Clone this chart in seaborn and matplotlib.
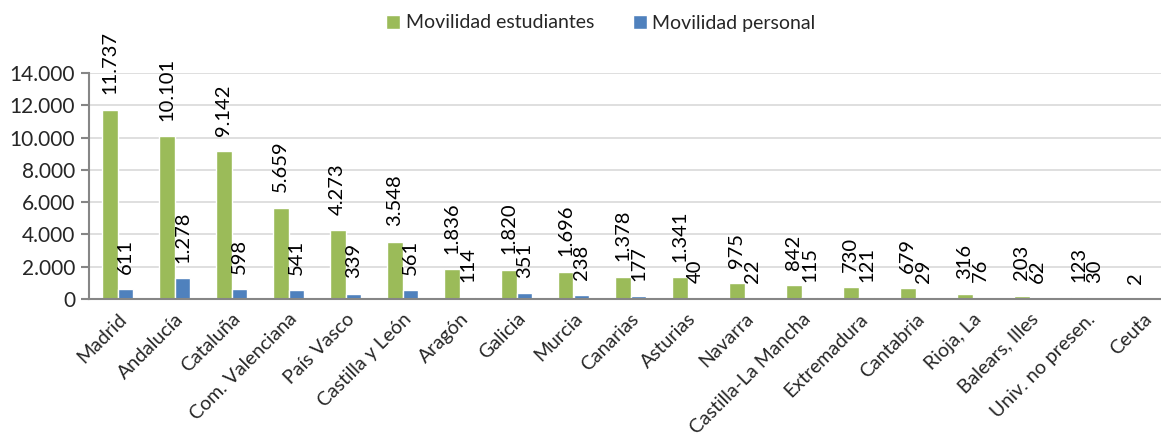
import numpy as np
import pandas as pd
import seaborn as sns
import matplotlib.pyplot as plt
from matplotlib.ticker import FuncFormatter, FixedLocator
from matplotlib.patches import Patch

# Data
regiones = ["Madrid", "Andalucía", "Cataluña", "Com. Valenciana", "País Vasco",
            "Castilla y León", "Aragón", "Galicia", "Murcia", "Canarias", "Asturias",
            "Navarra", "Castilla-La Mancha", "Extremadura", "Cantabria", "Rioja, La",
            "Balears, Illes", "Univ. no presen.", "Ceuta"]
estudiantes = [11737, 10101, 9142, 5659, 4273, 3548, 1836, 1820, 1696, 1378, 1341,
               975, 842, 730, 679, 316, 203, 123, 2]
personal = [611, 1278, 598, 541, 339, 561, 114, 351, 238, 177, 40,
            22, 115, 121, 29, 76, 62, 30, np.nan]
series = ["Movilidad estudiantes", "Movilidad personal"]
colores = ["#9BBB59", "#4F81BD"]

df = pd.DataFrame({
    "region": regiones * 2,
    "serie": [series[0]] * len(regiones) + [series[1]] * len(regiones),
    "valor": estudiantes + personal,
})

sns.set_style("white")
plt.rcParams['font.family'] = ['Lato', 'DejaVu Sans']

def miles(v):
    return f"{int(round(v)):,}".replace(",", ".")

fig = plt.figure(figsize=(11.61, 4.37), dpi=100)
ax = fig.add_axes([89 / 1161, 1 - 299 / 437, (1172 - 89) / 1161, 226 / 437])

sns.barplot(data=df, x="region", y="valor", hue="serie", order=regiones,
            hue_order=series, palette=colores, width=0.56, gap=0,
            saturation=1, legend=False, ax=ax)

# value labels above the bars
for cont in ax.containers:
    labs = ["" if np.isnan(v) else miles(v) for v in cont.datavalues]
    ax.bar_label(cont, labels=labs, rotation=90, padding=11, fontsize=14.5, color="black")

ax.set_xlim(-0.5, len(regiones) - 0.5)
ax.set_ylim(0, 14000)
ax.set_yticks(range(0, 14001, 2000))
ax.yaxis.set_major_formatter(FuncFormatter(lambda v, p: miles(v)))
ax.grid(axis="y", color="#D9D9D9", linewidth=1.2)
ax.set_axisbelow(True)

for s in ["top", "right"]:
    ax.spines[s].set_visible(False)
for s in ["left", "bottom"]:
    ax.spines[s].set_color("#868686")
    ax.spines[s].set_linewidth(1.5)

# category ticks between groups, like Excel
ax.xaxis.set_minor_locator(FixedLocator(np.arange(-0.5, len(regiones), 1.0)))
ax.tick_params(axis="x", which="minor", length=6, width=1.5, color="#868686", direction="out")
ax.tick_params(axis="x", which="major", length=0, pad=8)
ax.tick_params(axis="y", length=6, width=1.5, color="#868686", direction="out", left=True,
               labelsize=15, pad=4)
ax.set_xticks(range(len(regiones)))
ax.set_xticklabels(regiones, rotation=45, ha="right", va="top", rotation_mode="anchor",
                   fontsize=14)
ax.set_xlabel("")
ax.set_ylabel("")

handles = [Patch(facecolor=c, label=s) for c, s in zip(colores, series)]
fig.legend(handles=handles, loc="center", bbox_to_anchor=(601 / 1161, 1 - 23 / 437),
           ncol=2, frameon=False, fontsize=14, handlelength=0.7, handleheight=0.7,
           handletextpad=0.3, columnspacing=2.0)

fig.savefig("out.png", dpi=100)
